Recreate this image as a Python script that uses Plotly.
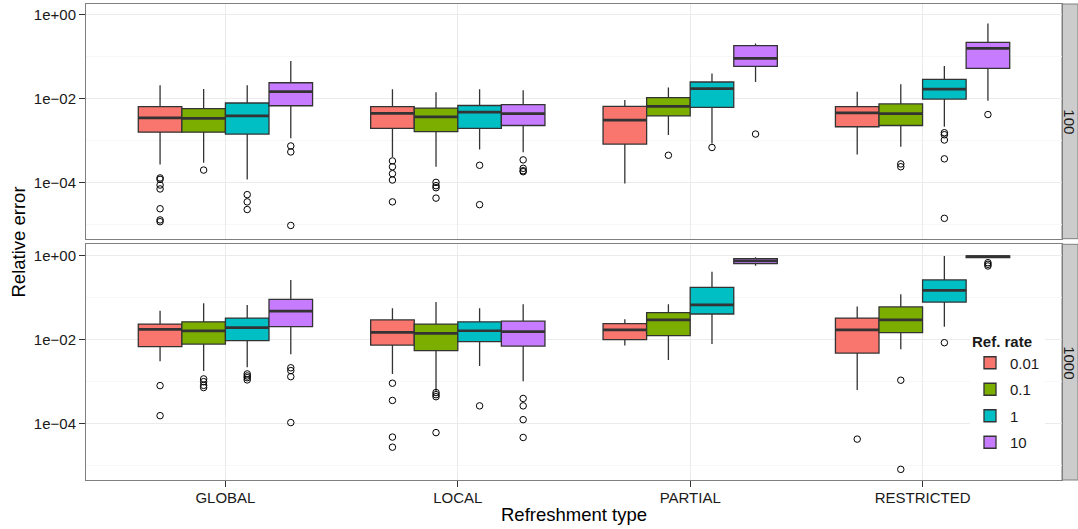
import plotly.graph_objects as go

# ---------------- data ----------------
categories = ["GLOBAL", "LOCAL", "PARTIAL", "RESTRICTED"]
rates = ["0.01", "0.1", "1", "10"]
colors = ["#F8766D", "#7CAE00", "#00BFC4", "#C77CFF"]
facet_labels = ["100", "1000"]

# facet "100"
lo_100 = {
    "0.01": [2.7e-4, 4.1e-4, 9.6e-5, 4.7e-4],
    "0.1": [3.0e-4, 2.4e-4, 1.36e-3, 7.2e-4],
    "1": [1.2e-4, 6.2e-4, 8.6e-4, 2.15e-3],
    "10": [1.14e-3, 5.3e-4, 2.5e-2, 8.9e-3],
}
q1_100 = {
    "0.01": [1.6e-3, 1.97e-3, 8.3e-4, 2.15e-3],
    "0.1": [1.6e-3, 1.64e-3, 3.9e-3, 2.3e-3],
    "1": [1.44e-3, 1.97e-3, 6.2e-3, 9.8e-3],
    "10": [6.8e-3, 2.3e-3, 5.9e-2, 5.3e-2],
}
med_100 = {
    "0.01": [3.5e-3, 4.5e-3, 3.1e-3, 4.6e-3],
    "0.1": [3.4e-3, 3.7e-3, 6.6e-3, 4.4e-3],
    "1": [3.9e-3, 4.8e-3, 1.73e-2, 1.7e-2],
    "10": [1.47e-2, 4.4e-3, 9.1e-2, 0.158],
}
q3_100 = {
    "0.01": [6.5e-3, 6.5e-3, 6.6e-3, 6.5e-3],
    "0.1": [5.8e-3, 6.0e-3, 1.06e-2, 7.5e-3],
    "1": [7.9e-3, 6.9e-3, 2.5e-2, 2.9e-2],
    "10": [2.4e-2, 7.2e-3, 0.183, 0.22],
}
hi_100 = {
    "0.01": [2.1e-2, 1.67e-2, 9.3e-3, 1.47e-2],
    "0.1": [1.7e-2, 1.42e-2, 1.86e-2, 2.2e-2],
    "1": [2.1e-2, 1.67e-2, 4.0e-2, 6.0e-2],
    "10": [7.9e-2, 1.58e-2, 0.207, 0.62],
}
out_100 = {
    "0.01": [[1.3e-4, 1.2e-4, 8.8e-5, 7.1e-5, 2.4e-5, 1.3e-5, 1.18e-5],
             [3.3e-4, 2.4e-4, 1.64e-4, 1.16e-4, 3.5e-5], [], []],
    "0.1": [[2.0e-4], [1.02e-4, 8.5e-5, 7.6e-5, 4.3e-5], [4.5e-4], [2.8e-4, 2.4e-4]],
    "1": [[5.2e-5, 3.5e-5, 2.3e-5], [2.6e-4, 3.0e-5], [6.9e-4],
          [1.55e-3, 1.39e-3, 1.04e-3, 3.7e-4, 1.42e-5]],
    "10": [[7.5e-4, 5.4e-4, 9.6e-6], [3.5e-4, 2.2e-4, 1.93e-4, 1.83e-4], [1.44e-3], [4.2e-3]],
}

# facet "1000"
lo_1000 = {
    "0.01": [3.0e-3, 1.5e-3, 7.1e-3, 6.2e-4],
    "0.1": [1.76e-3, 5.7e-4, 3.2e-3, 5.8e-3],
    "1": [2.15e-3, 2.3e-3, 7.7e-3, 2.0e-2],
    "10": [4.4e-3, 1.0e-3, 0.567, 0.849],
}
q1_1000 = {
    "0.01": [6.7e-3, 7.3e-3, 9.8e-3, 4.7e-3],
    "0.1": [7.7e-3, 5.4e-3, 1.22e-2, 1.44e-2],
    "1": [9.3e-3, 8.8e-3, 4.0e-2, 7.7e-2],
    "10": [2.0e-2, 6.9e-3, 0.634, 0.879],
}
med_1000 = {
    "0.01": [1.73e-2, 1.47e-2, 1.67e-2, 1.67e-2],
    "0.1": [1.58e-2, 1.39e-2, 2.9e-2, 2.9e-2],
    "1": [1.9e-2, 1.6e-2, 6.6e-2, 0.147],
    "10": [4.7e-2, 1.52e-2, 0.733, 0.929],
}
q3_1000 = {
    "0.01": [2.3e-2, 2.9e-2, 2.36e-2, 3.2e-2],
    "0.1": [2.6e-2, 2.3e-2, 4.3e-2, 5.9e-2],
    "1": [3.2e-2, 2.6e-2, 0.173, 0.259],
    "10": [8.95e-2, 2.7e-2, 0.834, 0.964],
}
hi_1000 = {
    "0.01": [4.8e-2, 5.5e-2, 3.0e-2, 6.0e-2],
    "0.1": [7.2e-2, 7.7e-2, 6.8e-2, 0.118],
    "1": [6.6e-2, 5.5e-2, 0.408, 0.964],
    "10": [0.259, 6.8e-2, 0.895, 0.98],
}
out_1000 = {
    "0.01": [[7.9e-4, 1.52e-4], [9.0e-4, 3.5e-4, 4.7e-5, 2.7e-5], [], [4.2e-5]],
    "0.1": [[1.14e-3, 9.8e-4, 8.0e-4, 7.1e-4], [5.4e-4, 4.8e-4, 4.3e-4, 6.0e-5], [],
            [1.06e-3, 8.0e-6]],
    "1": [[1.5e-3, 1.34e-3, 1.22e-3, 1.08e-3], [2.6e-4], [], [8.3e-3]],
    "10": [[2.1e-3, 1.8e-3, 1.29e-3, 1.04e-4], [3.9e-4, 2.6e-4, 1.22e-4, 4.6e-5], [],
           [0.668, 0.611, 0.557]],
}

y_tickvals = [1e-4, 1e-2, 1]
y_ticktext = ["1e\u221204", "1e\u221202", "1e+00"]
y_minor = [1e-5, 1e-3, 1e-1]

# ---------------- figure ----------------
FONT = "Liberation Sans, Arial, sans-serif"
DARK = "#333333"
W, H = 1078, 529
ML, MR, MT, MB = 86, 16, 4, 49
PW, PH = W - ML - MR, H - MT - MB

def py2paper(py):
    return (H - MB - py) / PH

def px2paper(px):
    return (px - ML) / PW

top_dom = [py2paper(238.7), 1.0]
bot_dom = [0.0, py2paper(244.3)]

box_w = 0.75 / len(rates)

fig = go.Figure()

facets = [
    ("x2", "y2", lo_100, q1_100, med_100, q3_100, hi_100, out_100, True),
    ("x", "y", lo_1000, q1_1000, med_1000, q3_1000, hi_1000, out_1000, False),
]

for xa, ya, lo, q1, med, q3, hi, out, showleg in facets:
    for k, r in enumerate(rates):
        pos = [i + 1 + (k - 1.5) * box_w for i in range(len(categories))]
        fig.add_trace(go.Box(
            x=pos, q1=q1[r], median=med[r], q3=q3[r],
            lowerfence=lo[r], upperfence=hi[r],
            width=box_w, whiskerwidth=0, boxpoints=False,
            fillcolor=colors[k], line=dict(color=DARK, width=1.3),
            name=r, legendgroup=r, showlegend=showleg,
            xaxis=xa, yaxis=ya, hoverinfo="skip",
        ))
    for k, r in enumerate(rates):
        pos = [i + 1 + (k - 1.5) * box_w for i in range(len(categories))]
        mx, my = [], []
        for p, m in zip(pos, med[r]):
            mx += [p - box_w / 2, p + box_w / 2, None]
            my += [m, m, None]
        fig.add_trace(go.Scatter(
            x=mx, y=my, mode="lines", line=dict(color=DARK, width=2.7),
            showlegend=False, legendgroup=r, xaxis=xa, yaxis=ya, hoverinfo="skip",
        ))
        ox, oy = [], []
        for p, vals in zip(pos, out[r]):
            ox += [p] * len(vals)
            oy += vals
        fig.add_trace(go.Scatter(
            x=ox, y=oy, mode="markers",
            marker=dict(symbol="circle-open", size=6.5, color="black",
                        line=dict(width=1, color="black")),
            showlegend=False, legendgroup=r, xaxis=xa, yaxis=ya, hoverinfo="skip",
        ))

common_x = dict(
    range=[0.4, 4.6], tickvals=[1, 2, 3, 4], ticktext=categories,
    showgrid=True, gridcolor="#EBEBEB", gridwidth=1, zeroline=False,
    showline=True, linecolor="#7F7F7F", linewidth=1, mirror=True,
    tickfont=dict(family=FONT, size=15, color="#1a1a1a"),
)
common_y = dict(
    type="log", tickvals=y_tickvals, ticktext=y_ticktext,
    showgrid=True, gridcolor="#EBEBEB", gridwidth=1, zeroline=False,
    showline=True, linecolor="#7F7F7F", linewidth=1, mirror=True,
    ticks="outside", ticklen=6, tickcolor=DARK, tickwidth=1,
    tickfont=dict(family=FONT, size=15, color="#1a1a1a"),
    minor=dict(tickvals=y_minor, showgrid=True, gridcolor="#F7F7F7", gridwidth=1),
)

fig.update_layout(
    width=W, height=H,
    margin=dict(l=ML, r=MR, t=MT, b=MB, pad=0),
    paper_bgcolor="white", plot_bgcolor="white",
    font=dict(family=FONT, size=15, color="#1a1a1a"),
    xaxis=dict(common_x, anchor="y", ticks="outside", ticklen=6, tickcolor=DARK,
               ticklabelstandoff=-2),
    xaxis2=dict(common_x, anchor="y2", matches="x", showticklabels=False, ticks=""),
    yaxis=dict(common_y, domain=bot_dom, anchor="x", range=[-5.35, 0.262]),
    yaxis2=dict(common_y, domain=top_dom, anchor="x2", range=[-5.333, 0.255]),
    legend=dict(
        title=dict(text="<b>Ref. rate</b>", font=dict(family=FONT, size=15)),
        font=dict(family=FONT, size=15),
        x=px2paper(970), y=py2paper(327), xanchor="left", yanchor="top",
        bgcolor="white", borderwidth=0, tracegroupgap=4, itemwidth=30,
    ),
    showlegend=True,
)

# facet strips
for lab, dom in zip(facet_labels, [top_dom, bot_dom]):
    fig.add_shape(type="rect", xref="paper", yref="paper",
                  x0=1.0, x1=px2paper(W), y0=dom[0], y1=dom[1],
                  fillcolor="#CCCCCC", line=dict(color="#7F7F7F", width=1), layer="below")
    fig.add_annotation(text=lab, xref="paper", yref="paper",
                       x=px2paper(1070), y=(dom[0] + dom[1]) / 2,
                       xanchor="center", yanchor="middle",
                       showarrow=False, textangle=90,
                       font=dict(family=FONT, size=15, color="#1a1a1a"))

# axis titles
fig.add_annotation(text="Relative error", xref="paper", yref="paper",
                   x=px2paper(17.5), y=py2paper(242), xanchor="center", yanchor="middle",
                   showarrow=False, textangle=-90,
                   font=dict(family=FONT, size=18.5, color="black"))
fig.add_annotation(text="Refreshment type", xref="paper", yref="paper",
                   x=px2paper(573.7), y=py2paper(514.5), xanchor="center", yanchor="middle",
                   showarrow=False,
                   font=dict(family=FONT, size=18.5, color="black"))

fig.write_html("out.html")
